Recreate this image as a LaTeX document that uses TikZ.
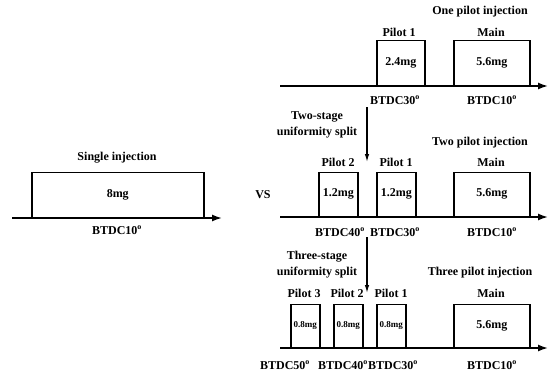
\documentclass[tikz,border=0pt]{standalone}
\usepackage{fontspec}
\setmainfont{Liberation Serif}
\usetikzlibrary{arrows.meta,positioning}

\begin{document}
\begin{tikzpicture}[x=1pt, y=-1pt,
		font=\fontsize{12}{16}\selectfont\bfseries,
		axis/.style={line width=1.6pt, -{Latex[length=10pt,width=7pt]}},
		pulse/.style={draw, line width=1.5pt, anchor=south west, inner sep=0pt, minimum height=44},
		split/.style={line width=1.2pt, -{Latex[length=8pt,width=4.5pt]}},
		small/.style={font=\fontsize{9}{11}\selectfont\bfseries}]
		\useasboundingbox (0,0) rectangle (551,373);
		% single injection
		\begin{scope}
			\draw[axis] (12,218) -- (222,218);
			\node[pulse, minimum width=172, minimum height=45] (s) at (31,218) {8mg};
			\node (sT) at (117,158) {Single injection};
			\node (sB) at (117,230) {BTDC10\textsuperscript{o}};
		\end{scope}
		\node (vs) at (263,195) {VS};
		% one pilot injection
		\begin{scope}
			\draw[axis] (280,86) -- (548,86);
			\node[pulse, minimum width=48, minimum height=45] (p11) at (376,86) {2.4mg};
			\node[pulse, minimum width=76, minimum height=45] (m1) at (453,86) {5.6mg};
			\node (t1) at (480,12) {One pilot injection};
			\node (l11) at (399,32) {Pilot 1};
			\node (lm1) at (491,32) {Main};
			\node (b11) at (395,100) {BTDC30\textsuperscript{o}};
			\node (bm1) at (492,100) {BTDC10\textsuperscript{o}};
		\end{scope}
		% two pilot injection
		\coordinate (a1) at (367,107);
		\coordinate (a2) at (367,162);
		\draw[split] (a1) -- (a2);
		\node[align=center] (s2) at (317,125) {Two-stage\\uniformity split};
		\begin{scope}
			\draw[axis] (280,217) -- (548,217);
			\node[pulse, minimum width=39] (p22) at (318,217) {1.2mg};
			\node[pulse, minimum width=39] (p21) at (376,217) {1.2mg};
			\node[pulse, minimum width=76] (m2) at (453,217) {5.6mg};
			\node (t2) at (480,143) {Two pilot injection};
			\node (l22) at (338,162) {Pilot 2};
			\node (l21) at (396,162) {Pilot 1};
			\node (lm2) at (491,162) {Main};
			\node (b22) at (340,232) {BTDC40\textsuperscript{o}};
			\node (b21) at (395,232) {BTDC30\textsuperscript{o}};
			\node (bm2) at (492,232) {BTDC10\textsuperscript{o}};
		\end{scope}
		% three pilot injection
		\coordinate (a3) at (367,237);
		\coordinate (a4) at (367,293);
		\draw[split] (a3) -- (a4);
		\node[align=center] (s3) at (317,265) {Three-stage\\uniformity split};
		\begin{scope}
			\draw[axis] (280,348) -- (548,348);
			\node[pulse, small, minimum width=29, minimum height=43] (p33) at (290,348) {0.8mg};
			\node[pulse, small, minimum width=29, minimum height=43] (p32) at (333,348) {0.8mg};
			\node[pulse, small, minimum width=29, minimum height=43] (p31) at (376,348) {0.8mg};
			\node[pulse, minimum width=76, minimum height=43] (m3) at (453,348) {5.6mg};
			\node (t3) at (480,273) {Three pilot injection};
			\node (l33) at (304,293) {Pilot 3};
			\node (l32) at (347,293) {Pilot 2};
			\node (l31) at (391,293) {Pilot 1};
			\node (lm3) at (491,293) {Main};
			\node (b33) at (285,365) {BTDC50\textsuperscript{o}};
			\node (b32) at (343,365) {BTDC40\textsuperscript{o}};
			\node (b31) at (393,365) {BTDC30\textsuperscript{o}};
			\node (bm3) at (492,365) {BTDC10\textsuperscript{o}};
		\end{scope}
	\end{tikzpicture}
\end{document}
